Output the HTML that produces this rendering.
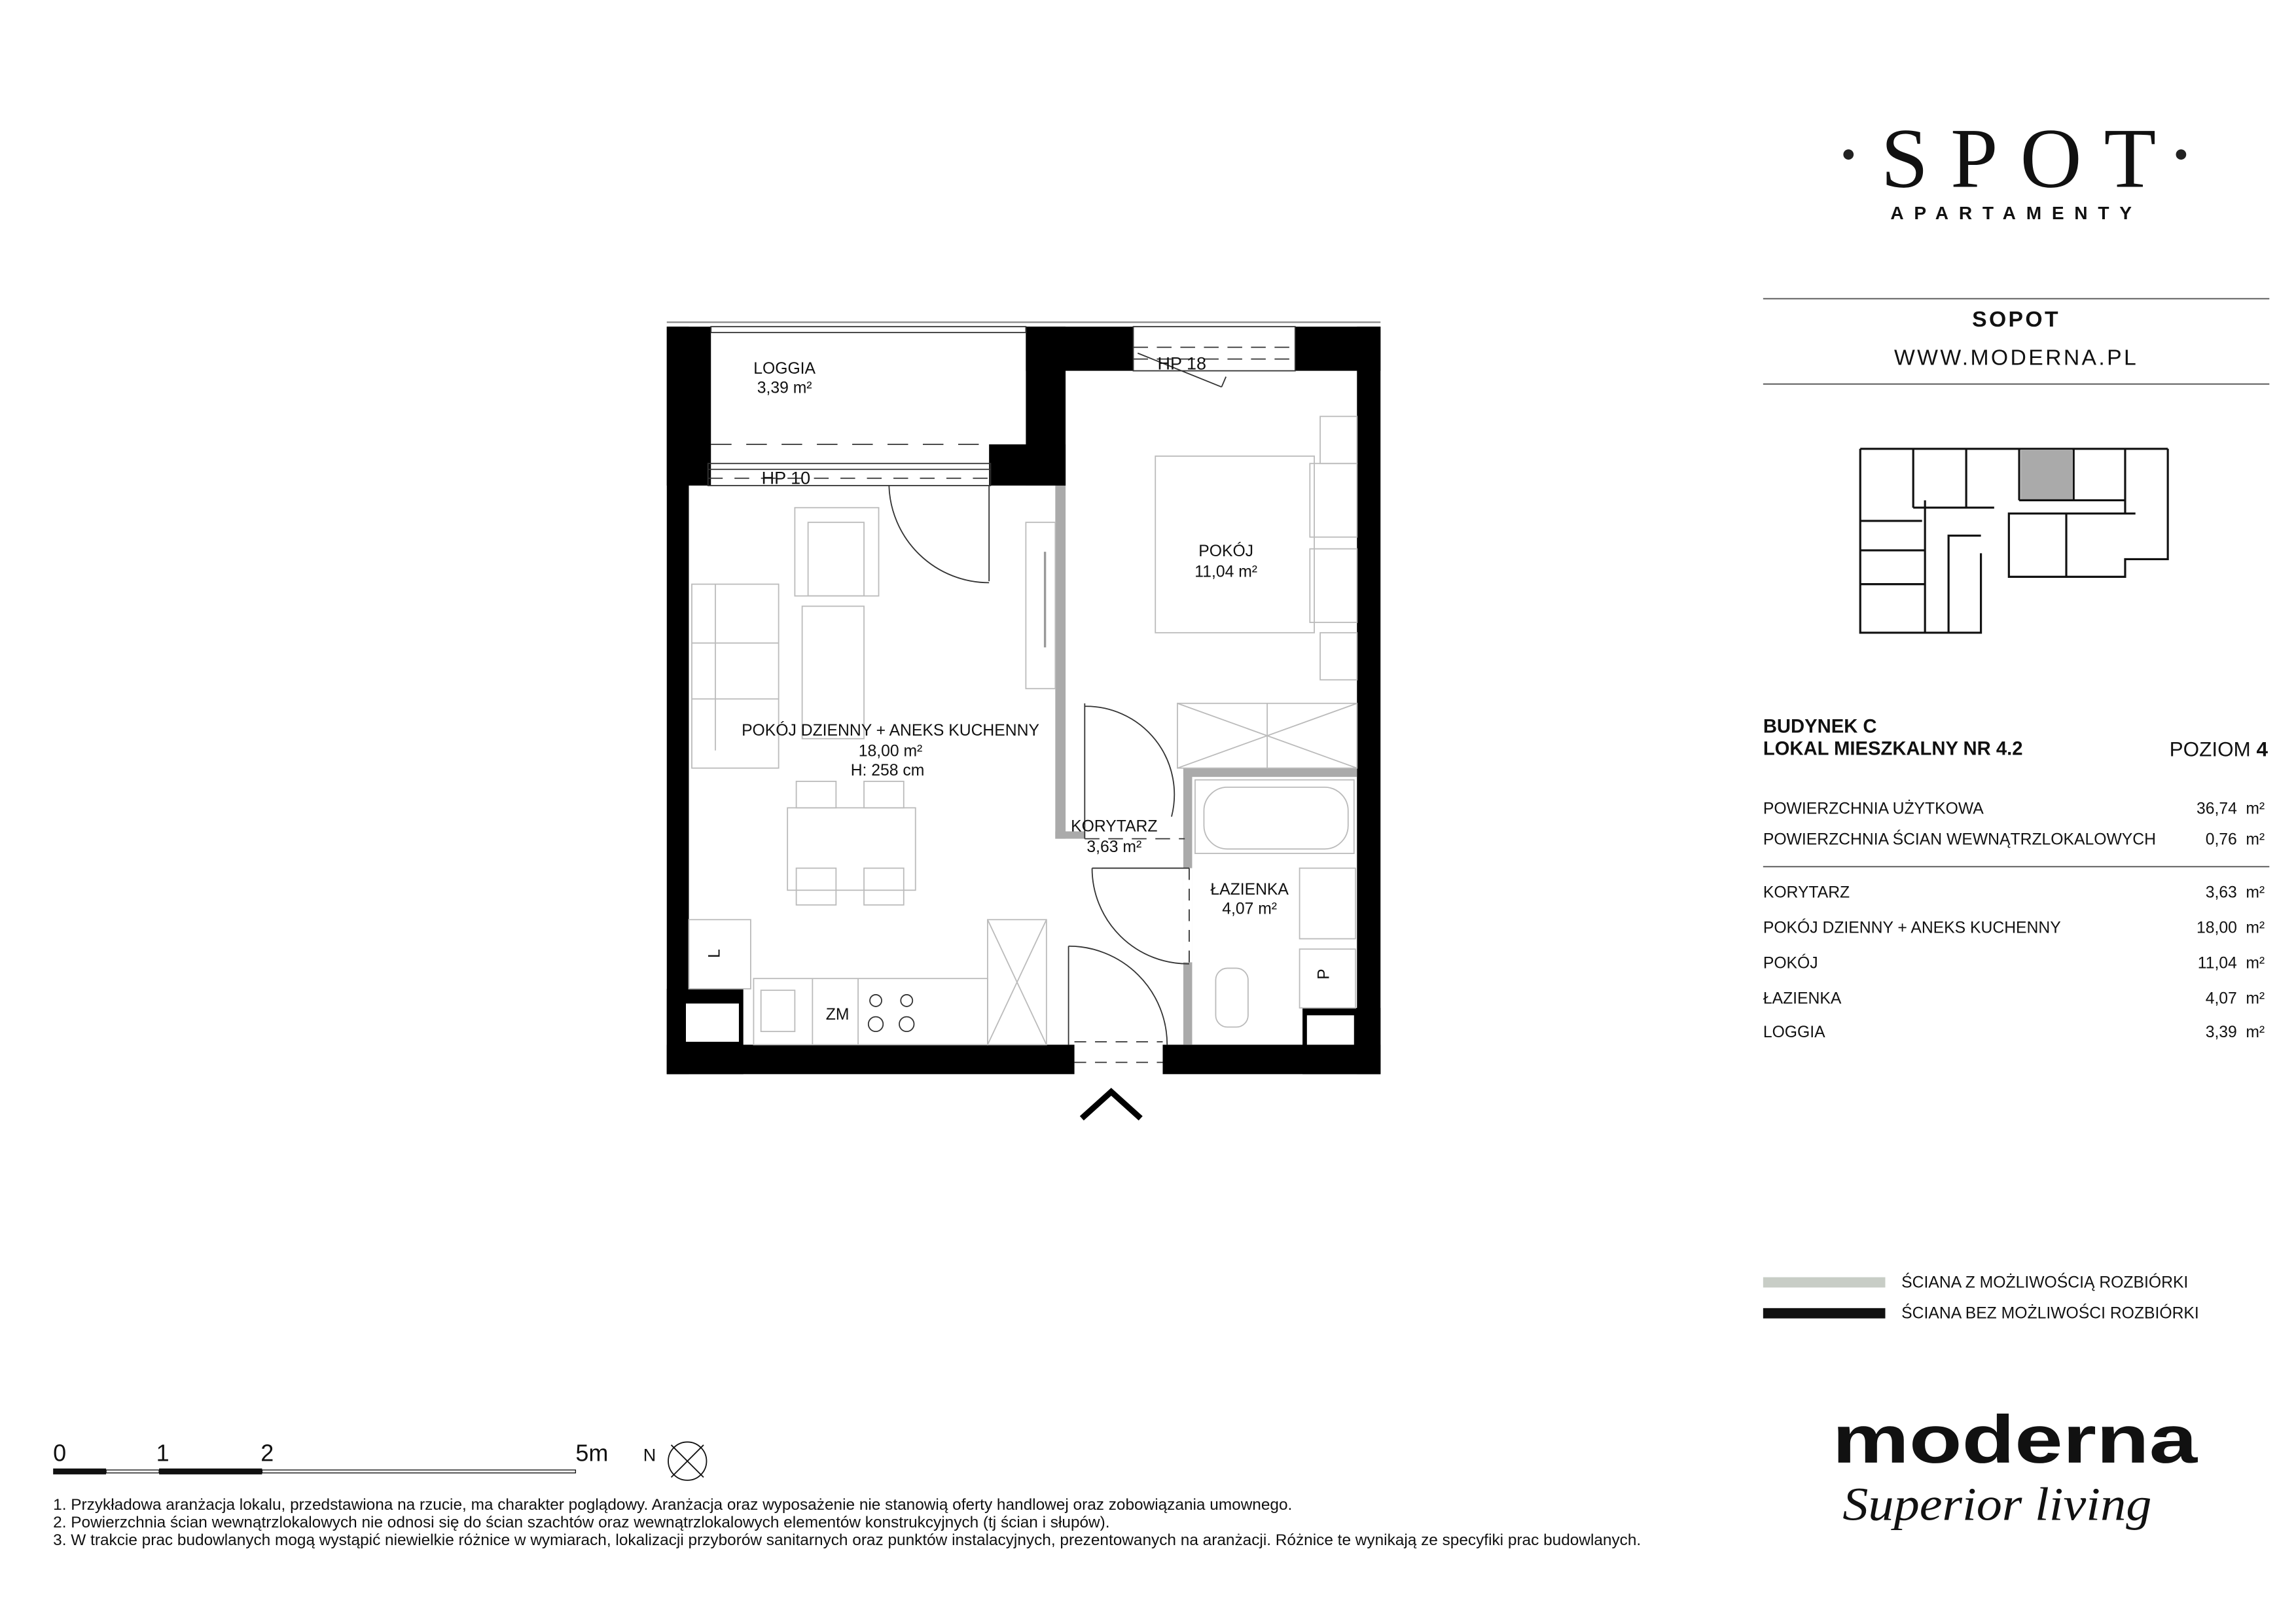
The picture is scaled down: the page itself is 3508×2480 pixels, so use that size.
<!DOCTYPE html>
<html><head><meta charset="utf-8"><style>
html,body{margin:0;padding:0;background:#fff;}
svg{display:block}
text{font-family:"Liberation Sans",sans-serif;fill:#111}
</style></head><body>
<svg width="3508" height="2480" viewBox="0 0 1560 1103" xmlns="http://www.w3.org/2000/svg">
<rect width="1560" height="1103" fill="#fff"/>
<!-- logo -->
<circle cx="1256" cy="105" r="3.5" fill="#222"/><circle cx="1482" cy="105" r="3.5" fill="#222"/>
<text x="1278" y="127" font-size="58" textLength="187" lengthAdjust="spacing" style="font-family:'Liberation Serif',serif" fill="#222">SPOT</text>
<text x="1370" y="149" font-size="12.5" font-weight="bold" text-anchor="middle" letter-spacing="7" fill="#222">APARTAMENTY</text>
<line x1="1198" y1="203" x2="1542" y2="203" stroke="#555" stroke-width="0.8"/>
<text x="1370" y="222" font-size="15" font-weight="bold" text-anchor="middle" letter-spacing="1.5">SOPOT</text>
<text x="1370" y="248" font-size="15" text-anchor="middle" letter-spacing="1.5">WWW.MODERNA.PL</text>
<line x1="1198" y1="261" x2="1542" y2="261" stroke="#555" stroke-width="0.8"/>
<!-- mini plan -->
<rect x="1373" y="306" width="35" height="34" fill="#aaa"/>
<g fill="none" stroke="#111" stroke-width="1.4">
<polyline points="1264,305 1264,430 1346,430 1346,376"/>
<line x1="1264" y1="305" x2="1473" y2="305"/>
<polyline points="1473,305 1473,380 1444,380 1444,392 1365,392 1365,349 1451,349"/>
<line x1="1264" y1="354" x2="1306" y2="354"/><line x1="1264" y1="374" x2="1308" y2="374"/><line x1="1264" y1="397" x2="1308" y2="397"/>
<line x1="1308" y1="340" x2="1308" y2="430"/>
<line x1="1300" y1="305" x2="1300" y2="345"/><line x1="1336" y1="305" x2="1336" y2="345"/><line x1="1372" y1="305" x2="1372" y2="340"/><line x1="1409" y1="305" x2="1409" y2="340"/><line x1="1444" y1="305" x2="1444" y2="349"/><line x1="1404" y1="349" x2="1404" y2="392"/>
<line x1="1300" y1="345" x2="1355" y2="345"/><line x1="1372" y1="340" x2="1444" y2="340"/>
<polyline points="1324,430 1324,364 1346,364"/>
</g>
<!-- info -->
<text x="1198" y="498" font-size="13" font-weight="bold">BUDYNEK C</text>
<text x="1198" y="513" font-size="13" font-weight="bold">LOKAL MIESZKALNY NR 4.2</text>
<text x="1541" y="514" font-size="14" text-anchor="end">POZIOM <tspan font-weight="bold">4</tspan></text>
<g font-size="11">
<text x="1198" y="553">POWIERZCHNIA UŻYTKOWA</text><text x="1520" y="553" text-anchor="end">36,74</text><text x="1526" y="553">m²</text>
<text x="1198" y="574">POWIERZCHNIA ŚCIAN WEWNĄTRZLOKALOWYCH</text><text x="1520" y="574" text-anchor="end">0,76</text><text x="1526" y="574">m²</text>
<text x="1198" y="610">KORYTARZ</text><text x="1520" y="610" text-anchor="end">3,63</text><text x="1526" y="610">m²</text>
<text x="1198" y="634">POKÓJ DZIENNY + ANEKS KUCHENNY</text><text x="1520" y="634" text-anchor="end">18,00</text><text x="1526" y="634">m²</text>
<text x="1198" y="658">POKÓJ</text><text x="1520" y="658" text-anchor="end">11,04</text><text x="1526" y="658">m²</text>
<text x="1198" y="682">ŁAZIENKA</text><text x="1520" y="682" text-anchor="end">4,07</text><text x="1526" y="682">m²</text>
<text x="1198" y="705">LOGGIA</text><text x="1520" y="705" text-anchor="end">3,39</text><text x="1526" y="705">m²</text>
</g>
<line x1="1198" y1="589" x2="1542" y2="589" stroke="#555" stroke-width="0.8"/>
<rect x="1198" y="868" width="83" height="7" fill="#c8cdc6"/>
<rect x="1198" y="889" width="83" height="7" fill="#111"/>
<text x="1292" y="875" font-size="11">ŚCIANA Z MOŻLIWOŚCIĄ ROZBIÓRKI</text>
<text x="1292" y="896" font-size="11">ŚCIANA BEZ MOŻLIWOŚCI ROZBIÓRKI</text>
<text x="1245" y="994" font-size="46" font-weight="bold" textLength="248" lengthAdjust="spacingAndGlyphs" fill="#111">moderna</text>
<text x="1252" y="1033" font-size="32" font-style="italic" textLength="210" lengthAdjust="spacingAndGlyphs" style="font-family:'Liberation Serif',serif">Superior living</text>
<!-- scale -->
<text x="36" y="993" font-size="16">0</text><text x="106" y="993" font-size="16">1</text><text x="177" y="993" font-size="16">2</text><text x="391" y="993" font-size="16">5m</text>
<rect x="36" y="998" width="36" height="4" fill="#111"/><rect x="72" y="999" width="36" height="2" fill="#fff" stroke="#111" stroke-width="0.6"/>
<rect x="108" y="998" width="70" height="4" fill="#111"/><rect x="178" y="999" width="213" height="2" fill="#fff" stroke="#111" stroke-width="0.6"/>
<circle cx="467" cy="993" r="13" fill="none" stroke="#111" stroke-width="0.8"/>
<line x1="456" y1="1004" x2="478" y2="982" stroke="#111" stroke-width="0.8"/><line x1="456" y1="982" x2="478" y2="1004" stroke="#111" stroke-width="0.8"/>
<text x="437" y="993" font-size="12">N</text>
<g font-size="10.5">
<text x="36" y="1026" textLength="842" lengthAdjust="spacingAndGlyphs">1. Przykładowa aranżacja lokalu, przedstawiona na rzucie, ma charakter poglądowy. Aranżacja oraz wyposażenie nie stanowią oferty handlowej oraz zobowiązania umownego.</text>
<text x="36" y="1038" textLength="718" lengthAdjust="spacingAndGlyphs">2. Powierzchnia ścian wewnątrzlokalowych nie odnosi się do ścian szachtów oraz wewnątrzlokalowych elementów konstrukcyjnych (tj ścian i słupów).</text>
<text x="36" y="1050" textLength="1079" lengthAdjust="spacingAndGlyphs">3. W trakcie prac budowlanych mogą wystąpić niewielkie różnice w wymiarach, lokalizacji przyborów sanitarnych oraz punktów instalacyjnych, prezentowanych na aranżacji. Różnice te wynikają ze specyfiki prac budowlanych.</text>
</g>
<!-- floor plan -->
<line x1="453" y1="219" x2="938" y2="219" stroke="#888" stroke-width="1"/>
<g fill="#000">
<rect x="453" y="222" width="15" height="508"/>
<rect x="453" y="222" width="30" height="108"/>
<rect x="922" y="222" width="16" height="508"/>
<rect x="880" y="222" width="58" height="30"/>
<rect x="697" y="222" width="73" height="30"/>
<rect x="697" y="222" width="27" height="108"/>
<rect x="672" y="302" width="52" height="28"/>
<rect x="453" y="710" width="277" height="20"/>
<rect x="790" y="710" width="148" height="20"/>
<rect x="453" y="672" width="52" height="58"/>
<rect x="885" y="685" width="53" height="45"/>
</g>
<rect x="466" y="682" width="36" height="26" fill="#fff"/>
<rect x="888" y="690" width="32" height="20" fill="#fff"/>
<rect x="468" y="330" width="250" height="342" fill="#fff"/>
<!-- gray walls -->
<g fill="#aaa">
<rect x="717" y="330" width="7" height="240"/>
<rect x="717" y="565" width="20" height="5"/>
<rect x="804" y="522" width="118" height="6"/>
<rect x="804" y="522" width="6" height="188"/>
</g>
<rect x="804" y="590" width="6" height="64" fill="#fff"/>
<g fill="none" stroke="#333" stroke-width="0.8">
<rect x="483" y="222" width="214" height="4"/>
<line x1="483" y1="302" x2="672" y2="302" stroke-dasharray="14,10"/>
<rect x="481" y="315" width="192" height="15"/>
<line x1="481" y1="319" x2="673" y2="319"/>
<line x1="481" y1="325" x2="673" y2="325" stroke-dasharray="10,8"/>
<rect x="770" y="222" width="110" height="30"/>
<line x1="770" y1="236" x2="880" y2="236" stroke-dasharray="10,6"/>
<line x1="770" y1="244" x2="880" y2="244" stroke-dasharray="10,6"/>
<line x1="773" y1="240" x2="830" y2="263"/><line x1="830" y1="263" x2="833" y2="256"/>
<line x1="672" y1="330" x2="672" y2="395"/>
<path d="M604 330 A68 68 0 0 0 672 396"/>
<rect x="540" y="345" width="57" height="60" stroke="#bbb"/>
<rect x="549" y="355" width="38" height="50" stroke="#bbb"/>
<rect x="470" y="397" width="59" height="125" stroke="#bbb"/>
<line x1="486" y1="397" x2="486" y2="510" stroke="#bbb"/>
<line x1="470" y1="437" x2="529" y2="437" stroke="#bbb"/><line x1="470" y1="475" x2="529" y2="475" stroke="#bbb"/>
<rect x="545" y="412" width="42" height="90" stroke="#bbb"/>
<rect x="535" y="549" width="87" height="56" stroke="#bbb"/>
<rect x="541" y="531" width="27" height="18" stroke="#bbb"/><rect x="587" y="531" width="27" height="18" stroke="#bbb"/>
<rect x="541" y="590" width="27" height="25" stroke="#bbb"/><rect x="587" y="590" width="27" height="25" stroke="#bbb"/>
<rect x="697" y="355" width="20" height="113" stroke="#bbb"/>
<line x1="710" y1="375" x2="710" y2="440" stroke="#999" stroke-width="1.5"/>
<rect x="468" y="625" width="42" height="47" stroke="#bbb"/>
<rect x="512" y="665" width="159" height="45" stroke="#bbb"/>
<line x1="552" y1="665" x2="552" y2="710" stroke="#bbb"/><line x1="583" y1="665" x2="583" y2="710" stroke="#bbb"/>
<rect x="517" y="673" width="23" height="28" stroke="#bbb"/>
<circle cx="595" cy="680" r="4"/><circle cx="616" cy="680" r="4"/><circle cx="595" cy="696" r="5"/><circle cx="616" cy="696" r="5"/>
<rect x="671" y="625" width="40" height="85" stroke="#bbb"/>
<line x1="671" y1="625" x2="711" y2="710" stroke="#bbb"/><line x1="711" y1="625" x2="671" y2="710" stroke="#bbb"/>
<rect x="785" y="310" width="108" height="120" stroke="#bbb"/>
<rect x="897" y="283" width="25" height="32" stroke="#bbb"/><rect x="890" y="315" width="32" height="50" stroke="#bbb"/>
<rect x="890" y="373" width="32" height="50" stroke="#bbb"/><rect x="897" y="430" width="25" height="32" stroke="#bbb"/>
<rect x="800" y="478" width="122" height="44" stroke="#bbb"/>
<line x1="800" y1="478" x2="922" y2="522" stroke="#bbb"/><line x1="922" y1="478" x2="800" y2="522" stroke="#bbb"/>
<line x1="861" y1="478" x2="861" y2="522" stroke="#bbb"/>
<line x1="737" y1="478" x2="737" y2="570"/>
<path d="M737 480 A60 60 0 0 1 796 555"/>
<line x1="737" y1="570" x2="805" y2="570" stroke-dasharray="10,6"/>
<line x1="808" y1="590" x2="808" y2="654" stroke-dasharray="8,6"/>
<line x1="742" y1="590" x2="808" y2="590"/>
<path d="M742 590 A65 65 0 0 0 808 655"/>
<line x1="726" y1="643" x2="726" y2="710"/>
<path d="M726 643 A67 67 0 0 1 793 710"/>
<line x1="730" y1="708" x2="790" y2="708" stroke-dasharray="8,6"/>
<line x1="730" y1="722" x2="790" y2="722" stroke-dasharray="8,6"/>
<rect x="812" y="530" width="108" height="50" stroke="#bbb"/>
<rect x="818" y="535" width="98" height="42" rx="16" stroke="#bbb"/>
<rect x="883" y="590" width="38" height="48" stroke="#bbb"/>
<rect x="883" y="645" width="38" height="40" stroke="#bbb"/>
<rect x="826" y="658" width="22" height="40" rx="8" stroke="#bbb"/>
</g>
<path d="M735 760 L755 742 L775 760" fill="none" stroke="#000" stroke-width="4"/>
<g font-size="11" text-anchor="middle">
<text x="533" y="254">LOGGIA</text><text x="533" y="267">3,39 m²</text>
<text x="534" y="329" font-size="12">HP 10</text>
<text x="803" y="251" font-size="12">HP 18</text>
<text x="833" y="378">POKÓJ</text><text x="833" y="392">11,04 m²</text>
<text x="605" y="500">POKÓJ DZIENNY + ANEKS KUCHENNY</text><text x="605" y="514">18,00 m²</text><text x="603" y="527">H: 258 cm</text>
<text x="757" y="565">KORYTARZ</text><text x="757" y="579">3,63 m²</text>
<text x="849" y="608">ŁAZIENKA</text><text x="849" y="621">4,07 m²</text>
<text x="569" y="693">ZM</text>
<text x="489" y="648" transform="rotate(-90 489 648)">L</text>
<text x="903" y="662" transform="rotate(-90 903 662)">P</text>
</g>
</svg>
</body></html>
